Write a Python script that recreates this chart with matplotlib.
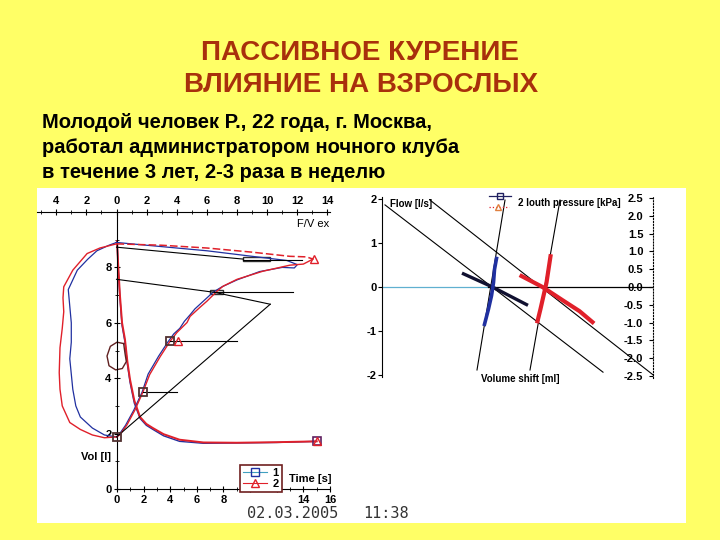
import matplotlib
matplotlib.use("Agg")
import matplotlib.pyplot as plt
from matplotlib.patches import Rectangle
from matplotlib.lines import Line2D
from matplotlib.ticker import FuncFormatter, FixedLocator

plt.rcParams['font.family'] = ['Liberation Sans', 'DejaVu Sans']
plt.rcParams['axes.unicode_minus'] = False

title_lines = ["ПАССИВНОЕ КУРЕНИЕ", "ВЛИЯНИЕ НА ВЗРОСЛЫХ"]
case_lines = ["Молодой человек Р., 22 года, г. Москва,",
              "работал администратором ночного клуба",
              "в течение 3 лет, 2-3 раза в неделю"]
date_text = "02.03.2005"
clock_text = "11:38"

# volume-time (t [s], V [l])
vt_t_red = [0, 0.1, 0.22, 0.38, 0.6, 0.78, 0.98, 1.3, 1.73, 2.2, 2.7, 3.5, 4.7, 6.5, 9, 12, 15]
vt_v_red = [8.95, 8.0, 7.0, 6.0, 5.4, 4.6, 3.95, 3.2, 2.6, 2.35, 2.2, 1.98, 1.78, 1.68, 1.67, 1.69, 1.72]
vt_t_blue = [0, 0.1, 0.22, 0.38, 0.6, 0.78, 0.98, 1.3, 1.73, 2.2, 2.7, 3.5, 4.7, 6.5, 9, 12, 15]
vt_v_blue = [8.95, 7.9, 6.9, 5.9, 5.3, 4.5, 3.85, 3.1, 2.55, 2.3, 2.15, 1.92, 1.72, 1.65, 1.66, 1.68, 1.72]
loop_t = [0.5, 0, -0.5, -0.75, -0.6, -0.1, 0.4, 0.7, 0.6, 0.5]
loop_v = [5.25, 5.3, 5.15, 4.8, 4.45, 4.3, 4.35, 4.6, 4.9, 5.25]
time_ticks = [0, 2, 4, 6, 8, 10, 12, 14, 16]
time_hidden = [10, 12]          # covered by the legend box in the original
vol_ticks = [0, 2, 4, 6, 8]

# flow-volume (flow [l/s], V [l])
fv_f_red = [0, 3, 6, 9, 11.5, 12.6, 13.04, 12.4, 11.5, 9.7, 8.0, 7.07, 6.67, 6.0, 5.54, 4.88,
            4.68, 4.01, 3.55, 2.9, 2.2, 1.76, 1.23, 0.7, 0.23, 0,
            -0.8, -1.6, -2.4, -3.1, -3.6, -3.75, -3.8, -3.75, -3.6, -3.5, -3.55, -3.5, -3.2,
            -2.9, -1.95, -1.1, 0]
fv_v_red = [8.85, 8.8, 8.7, 8.55, 8.4, 8.38, 8.3, 8.12, 8.08, 7.86, 7.57, 7.32, 7.14, 6.78, 6.56, 6.23,
            6.01, 5.65, 5.33, 4.78, 4.13, 3.51, 2.86, 2.32, 1.96, 1.88,
            1.85, 1.95, 2.15, 2.4, 3.0, 3.6, 4.2, 5.1, 5.8, 6.4, 6.9, 7.3, 7.6,
            7.9, 8.5, 8.7, 8.85]
red_dashed_n = 7                # first points (rise to peak) drawn dashed
fv_f_blue = [0, 3, 6, 9, 11.3, 12.0, 11.8, 11.0, 9.5, 8.0, 7.0, 6.4, 5.8, 5.2, 4.9, 4.5, 4.2,
             3.8, 3.4, 2.8, 2.1, 1.7, 1.15, 0.6, 0.15, 0,
             -0.8, -1.6, -2.4, -2.7, -2.9, -3.1, -3.0, -3.0, -3.1, -3.2, -2.6, -1.9, -1.3, -0.5, 0]
fv_v_blue = [8.9, 8.75, 8.6, 8.4, 8.25, 8.1, 7.98, 8.0, 7.85, 7.55, 7.3, 7.1, 6.8, 6.5, 6.3, 6.05, 5.8,
             5.6, 5.3, 4.8, 4.15, 3.5, 2.85, 2.3, 1.95, 1.88,
             1.95, 2.2, 2.6, 3.0, 3.6, 4.7, 5.3, 6.0, 6.6, 7.2, 7.9, 8.3, 8.6, 8.8, 8.9]
flow_ticks = [-4, -2, 0, 2, 4, 6, 8, 10, 12, 14]

# thin construction lines on the flow-volume plot: (f0, v0, f1, v1)
fv_ref_lines = [(0, 8.73, 8.4, 8.3), (0, 7.57, 6.5, 7.1), (6.5, 7.1, 10.2, 6.67),
                (10.2, 6.67, 0, 1.88), (6.5, 7.1, 11.7, 7.1), (3.55, 5.33, 8.0, 5.33),
                (1.76, 3.51, 4.0, 3.51), (8.4, 8.28, 12.3, 8.28)]
fv_marker_f = [0, 1.76, 3.55]
fv_marker_v = [1.88, 3.51, 5.33]
fv_boxes = [(8.4, 8.22, 1.8, 0.14), (6.2, 7.03, 0.9, 0.16)]

# plethysmography (volume shift [ml], flow [l/s])
pl_lines = [(-13.25, 1.87, 8.55, -1.94), (-8.75, 1.98, 13.55, -2.0),
            (-1.25, 1.98, -4.05, -1.89), (4.25, 1.98, 1.25, -1.89)]
pl_dark_x = [-5.4, -2.5, 0.9]
pl_dark_y = [0.3, 0.0, -0.4]
pl_blue_x = [-2.1, -2.3, -2.4, -2.6, -2.9, -3.3]
pl_blue_y = [0.65, 0.4, 0.1, -0.2, -0.5, -0.85]
pl_red1_x = [3.3, 3.1, 2.9, 2.6, 2.3, 2.0]
pl_red1_y = [0.7, 0.4, 0.1, -0.2, -0.5, -0.78]
pl_red2_x = [0.4, 2.5, 4.5, 6.2, 7.5]
pl_red2_y = [0.25, 0.0, -0.3, -0.55, -0.8]
pl_flow_ticks = [-2, -1, 0, 1, 2]
press_ticks = [-2.5, -2.0, -1.5, -1.0, -0.5, 0.0, 0.5, 1.0, 1.5, 2.0, 2.5]

W, H = 720, 540
YELLOW = '#FFFF66'
TITLE_C = '#A8300C'
RED = '#E0202A'
BLUE = '#2030A0'


def fx(px):
    return px / W


def fy(py):
    return 1 - py / H


fig = plt.figure(figsize=(7.2, 5.4), dpi=100, facecolor=YELLOW)
fig.patches.append(Rectangle((fx(37), fy(523)), (686 - 37) / W, (523 - 188) / H,
                             transform=fig.transFigure, facecolor='white', edgecolor='none', zorder=-5))

fig.text(0.5, fy(53), title_lines[0], ha='center', va='center', fontsize=20, fontweight='bold', color=TITLE_C)
fig.text(0.502, fy(85), title_lines[1], ha='center', va='center', fontsize=20, fontweight='bold', color=TITLE_C)
for i, line in enumerate(case_lines):
    fig.text(fx(42), fy(123 + 24.5 * i), line, ha='left', va='center', fontsize=14.5, fontweight='bold')

fig.text(fx(247), fy(513), date_text, family='DejaVu Sans Mono', fontsize=11, color='#333333', va='center')
fig.text(fx(363), fy(513), clock_text, family='DejaVu Sans Mono', fontsize=11, color='#333333', va='center')

# ---- left: volume-time + flow-volume ----
axL = fig.add_axes([fx(37), fy(489), (345 - 37) / W, (489 - 212) / H])
axL.set_facecolor('none')
axL.set_xlim(-(117 - 37) / 13.31, (345 - 117) / 13.31)
axL.set_ylim(0, 10)
for s in ['top', 'right']:
    axL.spines[s].set_visible(False)
axL.spines['left'].set_position(('data', 0))
axL.spines['left'].set_bounds(0, 10)
axL.spines['bottom'].set_bounds(0, 16)
axL.set_xticks(time_ticks)
axL.set_xticklabels(['' if t in time_hidden else str(t) for t in time_ticks])
axL.xaxis.set_minor_locator(FixedLocator(range(1, 16, 2)))
axL.set_yticks(vol_ticks)
axL.yaxis.set_minor_locator(FixedLocator(range(1, 10, 2)))
axL.tick_params(labelsize=8, length=4, width=0.8, direction='inout', pad=2)
axL.tick_params(which='minor', length=2.5, direction='inout')
for t in axL.get_xticklabels() + axL.get_yticklabels():
    t.set_fontweight('bold')

axF = axL.twiny()
axF.set_facecolor('none')
axF.set_xlim(-(116.5 - 37) / 15.07, (345 - 116.5) / 15.07)
for s in ['left', 'right', 'bottom']:
    axF.spines[s].set_visible(False)
axF.spines['top'].set_bounds(-5.275, 14.2)
axF.set_xticks(flow_ticks)
axF.xaxis.set_minor_locator(FixedLocator(range(-5, 14, 2)))
axF.xaxis.set_major_formatter(FuncFormatter(lambda v, p: '%d' % abs(v)))
axF.tick_params(labelsize=8, length=4, width=0.8, direction='inout', pad=2)
axF.tick_params(which='minor', length=2.5, direction='inout')
for t in axF.get_xticklabels():
    t.set_fontweight('bold')

axL.plot(vt_t_blue, vt_v_blue, color=BLUE, lw=1.0)
axL.plot(vt_t_red, vt_v_red, color=RED, lw=1.4)
axL.plot(loop_t, loop_v, color='#602020', lw=1.0)
axL.plot([15], [1.72], marker='s', ms=6, mfc='none', mec='#602060', mew=1.2)
axL.plot([15], [1.72], marker='^', ms=6, mfc='none', mec=RED, mew=1.0)

axF.plot(fv_f_blue, fv_v_blue, color=BLUE, lw=0.9)
axF.plot(fv_f_red[:red_dashed_n], fv_v_red[:red_dashed_n], color=RED, lw=1.1, ls=(0, (5, 2)))
axF.plot(fv_f_red[red_dashed_n - 1:], fv_v_red[red_dashed_n - 1:], color=RED, lw=1.0)
for f0, v0, f1, v1 in fv_ref_lines:
    axF.plot([f0, f1], [v0, v1], color='black', lw=0.8)
axF.plot(fv_marker_f, fv_marker_v, ls='none', marker='s', ms=6, mfc='none', mec='#503030', mew=1.3)
axF.plot([4.1, 13.1], [5.36, 8.3], ls='none', marker='^', ms=6, mfc='none', mec=RED, mew=1.0)
for f0, v0, w, h in fv_boxes:
    axF.add_patch(Rectangle((f0, v0), w, h, facecolor='none', edgecolor='#303030', lw=1.0))

axF.text(13.04, 9.57, 'F/V ex', fontsize=8, ha='center', va='center')
axL.text(-1.58, 1.16, 'Vol [l]', fontsize=8, fontweight='bold', ha='center', va='center')
axL.text(14.5, 0.36, 'Time [s]', fontsize=8, fontweight='bold', ha='center', va='center')

handles = [Line2D([], [], color='#40A0C0', lw=0.8, marker='s', ms=6, mfc='none', mec=BLUE),
           Line2D([], [], color=RED, lw=0.8, marker='^', ms=6, mfc='none', mec=RED)]
leg = axL.legend(handles, ['1', '2'], loc='lower left', bbox_to_anchor=(0.659, -0.01),
                 borderaxespad=0, fontsize=8, handlelength=2.2, handletextpad=0.5,
                 borderpad=0.25, labelspacing=0.1, fancybox=False, framealpha=1)
leg.get_frame().set_edgecolor('#702020')
leg.get_frame().set_linewidth(1.2)
leg.set_zorder(10)
for t in leg.get_texts():
    t.set_fontweight('bold')

# ---- right: plethysmography ----
axR = fig.add_axes([fx(382), fy(378), (653 - 382) / W, (378 - 194) / H])
axR.set_facecolor('none')
axR.set_xlim(-13.55, 13.55)
axR.set_ylim(-(378 - 287) / 43.9, (287 - 194) / 43.9)
for s in ['top', 'right', 'bottom']:
    axR.spines[s].set_visible(False)
axR.spines['left'].set_bounds(-2.05, 2.05)
axR.set_xticks([])
axR.set_yticks(pl_flow_ticks)
axR.tick_params(labelsize=8, length=3, width=0.8, pad=1)
for t in axR.get_yticklabels():
    t.set_fontweight('bold')

axP = axR.twinx()
axP.set_ylim(-(378 - 287) / 35.6, (287 - 194) / 35.6)
for s in ['top', 'left', 'bottom']:
    axP.spines[s].set_visible(False)
axP.spines['right'].set_bounds(-2.55, 2.55)
axP.spines['right'].set_linestyle(':')
axP.set_yticks(press_ticks)
axP.yaxis.set_major_formatter(FuncFormatter(lambda v, p: '%.1f' % v))
axP.tick_params(labelsize=8, length=3, width=0.8, direction='in', pad=-7)
for t in axP.get_yticklabels():
    t.set_fontweight('bold')
    t.set_horizontalalignment('right')

axR.plot([-13.55, -3.0], [0, 0], color='#60B0D0', lw=0.9)
axR.plot([-3.0, 13.55], [0, 0], color='black', lw=0.9)
for x0, y0, x1, y1 in pl_lines:
    axR.plot([x0, x1], [y0, y1], color='black', lw=0.8)
axR.plot(pl_dark_x, pl_dark_y, color='#101030', lw=2.4)
axR.plot(pl_blue_x, pl_blue_y, color=BLUE, lw=2.6)
axR.plot(pl_red1_x, pl_red1_y, color=RED, lw=3.0)
axR.plot(pl_red2_x, pl_red2_y, color=RED, lw=3.0)

axR.text(-12.75, 1.9, 'Flow [l/s]', fontsize=7, fontweight='bold', ha='left', va='center')
axR.text(0.05, 1.91, '2 louth pressure [kPa]', fontsize=7, fontweight='bold', ha='left', va='center')
axR.text(0.25, -2.09, 'Volume shift [ml]', fontsize=7, fontweight='bold', ha='center', va='center')
axR.plot([-2.9, -0.7], [2.07, 2.07], color='#202060', lw=0.9, clip_on=False)
axR.plot([-1.8], [2.07], marker='s', ms=5, mfc='none', mec='#202060', clip_on=False)
axR.plot([-2.9, -0.9], [1.82, 1.82], color=RED, lw=0.9, ls=':', clip_on=False)
axR.plot([-1.95], [1.82], marker='^', ms=5, mfc='none', mec='#E08040', clip_on=False)

fig.savefig('out.png', dpi=100, facecolor=YELLOW)
